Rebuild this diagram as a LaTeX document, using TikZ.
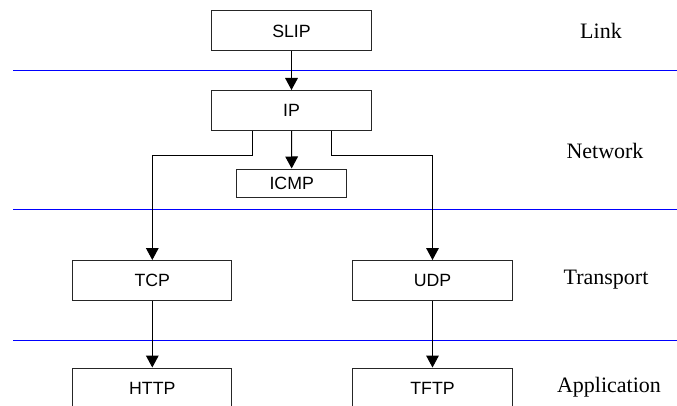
\documentclass[tikz,border=0pt]{standalone}
\usepackage{fontspec}
\setmainfont{Liberation Serif}
\newfontfamily\boxfont{Liberation Sans}
\usetikzlibrary{arrows.meta, calc}

\begin{document}
\begin{tikzpicture}[x=0.75pt, y=-0.75pt,
    proto/.style={draw=black!85, line width=0.75pt, minimum width=119.5pt, minimum height=30pt, inner sep=0pt, font=\boxfont\fontsize{13.3}{15}\selectfont},
    small/.style={proto, minimum width=82.5pt, minimum height=21pt},
    layer/.style={font=\fontsize{16.5}{19}\selectfont},
    sep/.style={draw=blue, line width=0.75pt},
    arr/.style={draw=black, line width=0.75pt, -{Triangle[length=9pt, width=9.5pt]}}]
    \useasboundingbox (0,0) rectangle (677,406);
    \clip (0,0) rectangle (677,406);

    \coordinate (S1) at (13,70.5);
    \coordinate (S2) at (13,209.5);
    \coordinate (S3) at (13,340.5);

    \coordinate (E1) at (677,70.5);
    \coordinate (E2) at (677,209.5);
    \coordinate (E3) at (677,340.5);

    \draw[sep] (S1) -- (E1);
    \draw[sep] (S2) -- (E2);
    \draw[sep] (S3) -- (E3);

    \node[proto] (slip) at (291.5,31) {SLIP};
    \node[proto] (ip) at (291.5,110.5) {IP};
    \node[small] (icmp) at (291.7,183) {ICMP};
    \node[proto] (tcp) at (152.3,280.5) {TCP};
    \node[proto] (udp) at (432.5,280.5) {UDP};
    \node[proto] (http) at (152.3,388) {HTTP};
    \node[proto] (tftp) at (432.5,388) {TFTP};

    \node[layer] (link) at (601,31) {Link};
    \node[layer] (network) at (605,151) {Network};
    \node[layer] (transport) at (606,280) {Transport};
    \node[layer] (application) at (609,387) {Application};

    \coordinate (ipL) at ($ (ip.south) + (-39.5,0) $);
    \coordinate (ipR) at ($ (ip.south) + (40,0) $);
    \coordinate (bendL) at ($ (tcp.north) + (0,-105) $);
    \coordinate (bendR) at ($ (udp.north) + (0,-105) $);

    \draw[arr] (slip) -- (ip);
    \draw[arr] (ip) -- (icmp);

    \draw[arr] (ipL) |- (bendL) -- (tcp);
    \draw[arr] (ipR) |- (bendR) -- (udp);

    \draw[arr] (tcp) -- (http);
    \draw[arr] (udp) -- (tftp);
  \end{tikzpicture}
\end{document}
